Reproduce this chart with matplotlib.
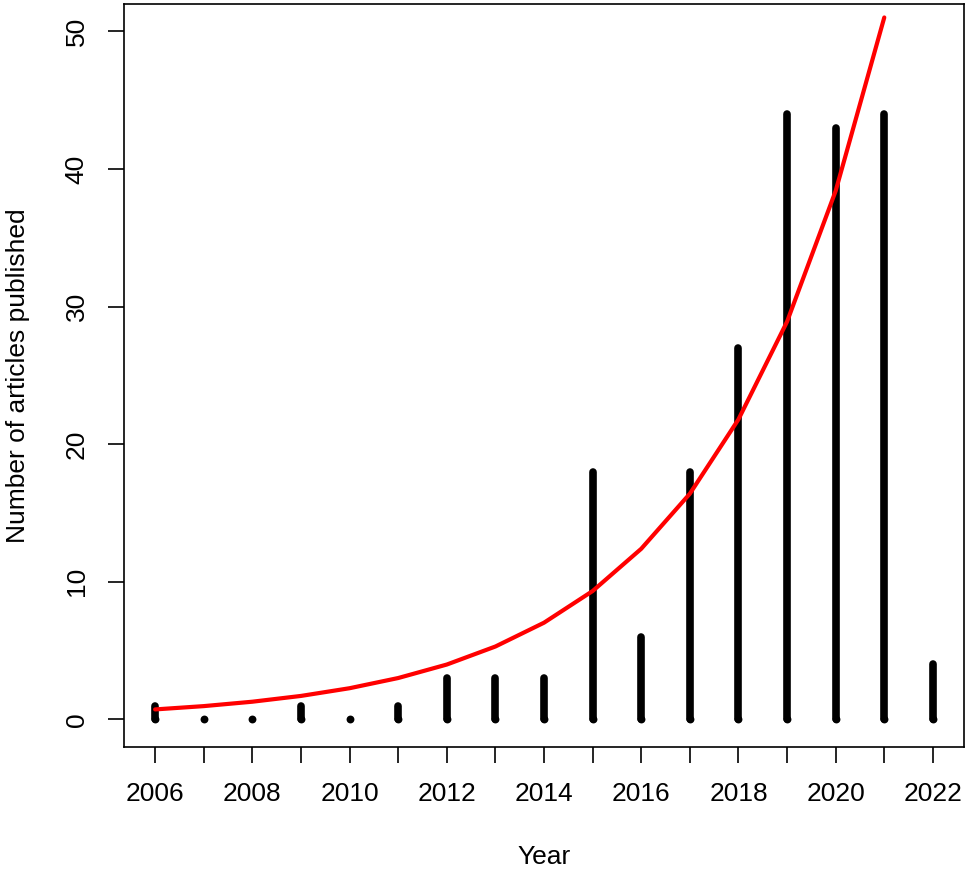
import matplotlib
matplotlib.use("Agg")
import matplotlib.pyplot as plt

years = [2006, 2007, 2008, 2009, 2010, 2011, 2012, 2013, 2014, 2015, 2016,
         2017, 2018, 2019, 2020, 2021, 2022]
articles = [1, 0, 0, 1, 0, 1, 3, 3, 3, 18, 6, 18, 27, 44, 43, 44, 4]

fit_years = [2006, 2007, 2008, 2009, 2010, 2011, 2012, 2013, 2014, 2015,
             2016, 2017, 2018, 2019, 2020, 2021]
fit_values = [0.73, 0.97, 1.29, 1.71, 2.27, 3.01, 3.99, 5.30, 7.03, 9.33,
              12.4, 16.4, 21.8, 28.9, 38.4, 51.0]

xtick_labels = ["2006", "", "2008", "", "2010", "", "2012", "", "2014", "",
                "2016", "", "2018", "", "2020", "", "2022"]
yticks = [0, 10, 20, 30, 40, 50]

plt.rcParams['font.family'] = ['Liberation Sans', 'DejaVu Sans']

fig = plt.figure(figsize=(9.68, 8.72), dpi=100)
L, R, T, B = 124, 964, 3.7, 747
W, H = 968, 872
ax = fig.add_axes([L / W, 1 - B / H, (R - L) / W, (B - T) / H])

ax.vlines(years, 0, articles, colors='black', linewidth=5.5, capstyle='round', zorder=2)
ax.scatter(years, [0] * len(years), s=32, color='black', linewidths=0, zorder=2)
ax.plot(fit_years, fit_values, color='#ff0000', linewidth=3.0, zorder=3,
        solid_capstyle='round', solid_joinstyle='round')

ax.set_xlim(2005.36, 2022.64)
ax.set_ylim(-2.0, 52.0)

ax.set_xticks(years)
ax.set_xticklabels(xtick_labels)
ax.set_yticks(yticks)
ax.set_yticklabels([str(v) for v in yticks], rotation=90, va='center')

for s in ax.spines.values():
    s.set_linewidth(1.2)
    s.set_color('black')

ax.tick_params(axis='both', direction='out', length=11.5, width=1.2, labelsize=19,
               colors='black')
ax.tick_params(axis='x', pad=14)
ax.tick_params(axis='y', pad=14)

ax.set_xlabel("Year", fontsize=19)
ax.set_ylabel("Number of articles published", fontsize=19)
ax.xaxis.set_label_coords(0.5, -0.132)
ax.yaxis.set_label_coords(-0.112, 0.5)

fig.savefig("out.png", dpi=100)
